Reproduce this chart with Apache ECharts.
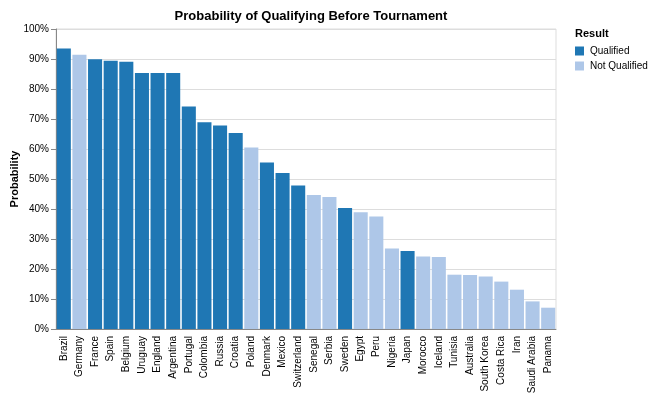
<!DOCTYPE html>
<html>
<head>
<meta charset="utf-8">
<script src="https://cdn.jsdelivr.net/npm/echarts@6/dist/echarts.min.js"></script>
<style>html,body{margin:0;padding:0;background:#fff}#c{width:654px;height:400px}</style>
</head>
<body>
<div id="c"></div>
<script>
const countries = ["Brazil","Germany","France","Spain","Belgium","Uruguay","England","Argentina","Portugal","Colombia","Russia","Croatia","Poland","Denmark","Mexico","Switzerland","Senegal","Serbia","Sweden","Egypt","Peru","Nigeria","Japan","Morocco","Iceland","Tunisia","Australia","South Korea","Costa Rica","Iran","Saudi Arabia","Panama"];
const probability = [93.5,91.4,89.9,89.4,89.1,85.3,85.3,85.3,74.2,68.9,67.8,65.3,60.5,55.5,52.0,47.8,44.7,44.0,40.3,38.9,37.5,26.8,26.0,24.2,24.0,18.1,18.0,17.5,15.8,13.1,9.2,7.1];
const result = ["Q","N","Q","Q","Q","Q","Q","Q","Q","Q","Q","Q","N","Q","Q","Q","N","N","Q","N","N","N","Q","N","N","N","N","N","N","N","N","N"];
const resultNames = {Q: "Qualified", N: "Not Qualified"};
const yTicks = [0,10,20,30,40,50,60,70,80,90,100];

const font = "'Liberation Sans', Arial, Helvetica, sans-serif";
const colors = {Q: "#1f77b4", N: "#aec7e8"};
const chart = echarts.init(document.getElementById('c'), null, {renderer: 'canvas'});
const mk = k => ({
  name: resultNames[k],
  type: 'bar',
  stack: 'all',
  barCategoryGap: '10%',
  itemStyle: {color: colors[k]},
  data: probability.map((v, i) => result[i] === k ? v : '-'),
  animation: false
});
chart.setOption({
  animation: false,
  textStyle: {fontFamily: font},
  title: {
    text: 'Probability of Qualifying Before Tournament',
    left: 306, top: 5, textAlign: 'center',
    textStyle: {fontSize: 13, fontWeight: 'bold', color: '#000', fontFamily: font}
  },
  graphic: [{
    type: 'text', left: 575, top: 28,
    style: {text: 'Result', fontSize: 11, fontWeight: 'bold', fill: '#000', fontFamily: font}
  }],
  legend: {
    orient: 'vertical', left: 575, top: 46, padding: 0,
    itemWidth: 9, itemHeight: 9, itemGap: 5,
    icon: 'rect',
    textStyle: {fontSize: 10, color: '#000', fontFamily: font, padding: [0,0,0,1]},
    data: [resultNames.Q, resultNames.N]
  },
  grid: {
    left: 56, top: 29, width: 500, height: 300,
    outerBoundsMode: 'none', containLabel: false,
    show: true, borderColor: '#ddd', borderWidth: 1, backgroundColor: 'transparent'
  },
  xAxis: {
    type: 'category',
    data: countries,
    axisLine: {lineStyle: {color: '#888'}},
    axisTick: {alignWithLabel: true, interval: 0, length: 5, lineStyle: {color: '#888'}},
    axisLabel: {interval: 0, rotate: 90, fontSize: 10, color: '#000', margin: 7, fontFamily: font}
  },
  yAxis: {
    type: 'value', min: 0, max: 100, interval: 10,
    name: 'Probability', nameLocation: 'middle', nameGap: 36, nameRotate: 90,
    nameMoveOverlap: false,
    nameTextStyle: {fontSize: 11, fontWeight: 'bold', color: '#000', fontFamily: font},
    axisLine: {show: true, lineStyle: {color: '#888'}},
    axisTick: {show: true, length: 5, lineStyle: {color: '#888'}},
    axisLabel: {fontSize: 10, color: '#000', margin: 7, fontFamily: font,
      formatter: v => yTicks.includes(v) ? v + '%' : ''},
    splitLine: {lineStyle: {color: '#ddd'}}
  },
  series: [mk('Q'), mk('N')]
});
</script>
</body>
</html>
